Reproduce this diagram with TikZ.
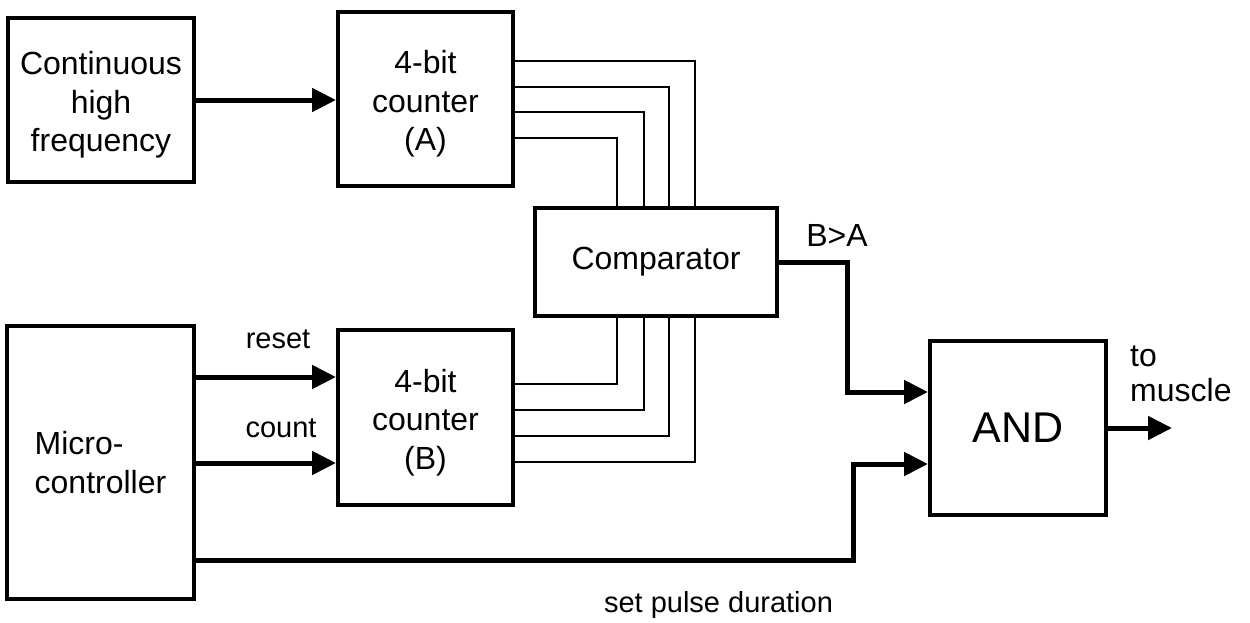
\documentclass[tikz,border=0pt]{standalone}
\usepackage{fontspec}
\setmainfont{Liberation Sans}
\usetikzlibrary{arrows.meta}
\newcommand{\dn}{\rule{0pt}{33.5pt}}
\begin{document}
\begin{tikzpicture}[x=1pt,y=-1pt,
  box/.style={draw,line width=4pt,inner sep=0pt,align=center,font=\fontsize{32}{38.5}\selectfont},
  lbl/.style={inner sep=0pt,font=\fontsize{29}{34}\selectfont},
  arr/.style={line width=5pt,-{Triangle[length=24pt,width=23pt]}},
  bus/.style={line width=2.4pt}]
\useasboundingbox (0,0) rectangle (1250,622);
\fill[white] (0,0) rectangle (1250,622);
% blocks
\node[box,minimum width=186pt,minimum height=164pt] (cont) at (101,100) {\dn Continuous\\high\\frequency};
\node[box,minimum width=175pt,minimum height=174pt] (ctrA) at (425.5,99) {\dn 4-bit\\counter\\(A)};
\node[box,minimum width=242pt,minimum height=108pt] (comp) at (656,262) {Comparator};
\node[box,minimum width=187pt,minimum height=273pt,align=left] (micro) at (100.5,462.5) {Micro-\\controller};
\node[box,minimum width=175pt,minimum height=175pt] (ctrB) at (425.5,417.5) {\dn 4-bit\\counter\\(B)};
\node[box,minimum width=176pt,minimum height=174pt,font=\fontsize{43}{48}\selectfont] (and) at (1018,428) {AND};
% labels
\node[lbl] (lreset) at (278,339) {reset};
\node[lbl] (lcount) at (281,428) {count};
\node[lbl,font=\fontsize{32}{37}\selectfont] (lba) at (837,235) {B>A};
\node[lbl,font=\fontsize{32}{35}\selectfont,align=left,anchor=west] (lmus) at (1130,374) {to\\muscle};
\node[lbl,anchor=base] (lpulse) at (718.5,612) {set pulse duration};
% helper coordinates
\coordinate (rB) at ([yshift=40.5pt]ctrB.west);
\coordinate (cB) at ([yshift=-45.5pt]ctrB.west);
\coordinate (aIn1) at ([yshift=36pt]and.west);
\coordinate (aIn2) at ([yshift=-36pt]and.west);
\coordinate (pd) at (0,560);
\coordinate (bend1) at (847,262);
\coordinate (bend2) at (853,560);
\coordinate (outEnd) at (1172,428);
% connectors
\draw[arr] (cont.east) -- (cont.east -| ctrA.west);
\draw[arr] (rB -| micro.east) -- (rB);
\draw[arr] (cB -| micro.east) -- (cB);
% bus A -> comparator
\draw[bus] ([yshift=38pt]ctrA.east) -| ([xshift=39pt]comp.north);
\draw[bus] ([yshift=12pt]ctrA.east) -| ([xshift=13pt]comp.north);
\draw[bus] ([yshift=-13pt]ctrA.east) -| ([xshift=-12pt]comp.north);
\draw[bus] ([yshift=-39pt]ctrA.east) -| ([xshift=-39pt]comp.north);
% bus B -> comparator
\draw[bus] ([yshift=33.5pt]ctrB.east) -| ([xshift=-39pt]comp.south);
\draw[bus] ([yshift=7.5pt]ctrB.east) -| ([xshift=-12pt]comp.south);
\draw[bus] ([yshift=-18.5pt]ctrB.east) -| ([xshift=13pt]comp.south);
\draw[bus] ([yshift=-44.5pt]ctrB.east) -| ([xshift=39pt]comp.south);
% comparator -> AND
\draw[arr] (comp.east) -- (bend1) |- (aIn1);
% micro -> AND
\draw[arr] (micro.east |- pd) -- (bend2) |- (aIn2);
% output
\draw[arr] (and.east) -- (outEnd);
\end{tikzpicture}
\end{document}
